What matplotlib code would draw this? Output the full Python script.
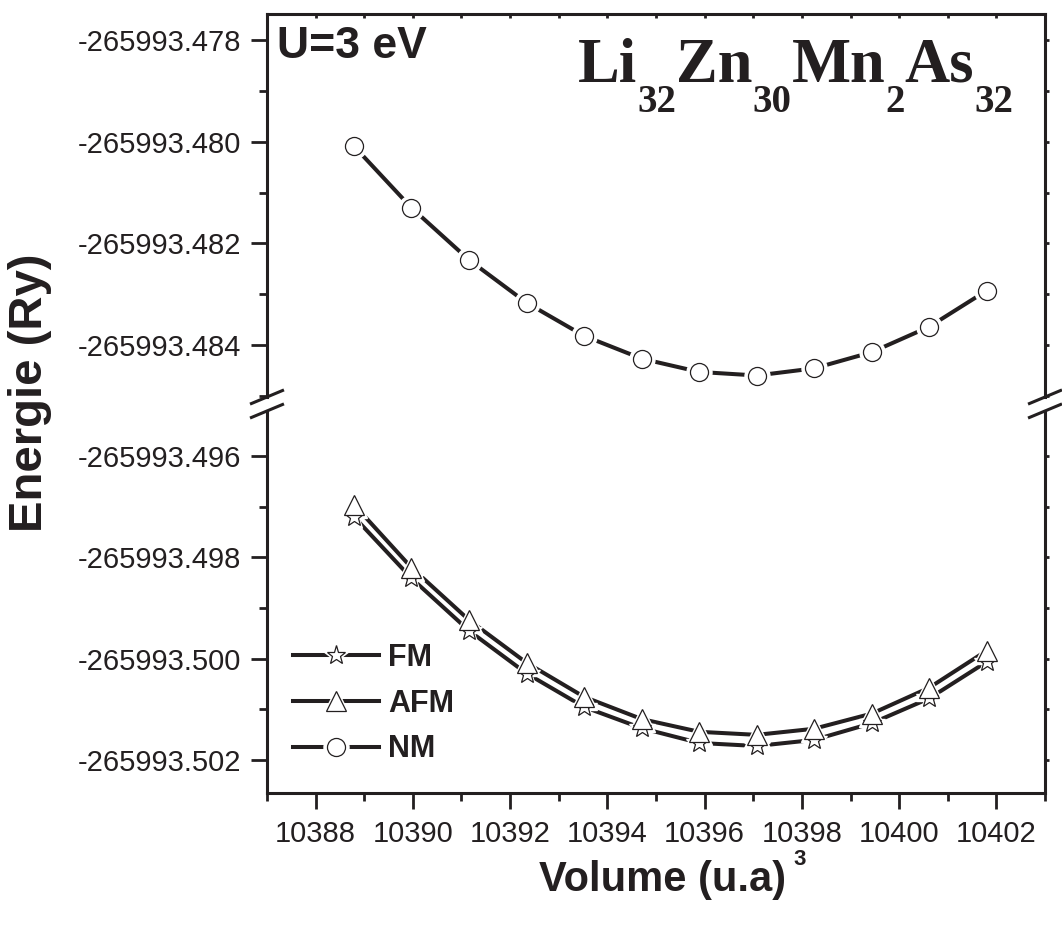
import numpy as np
import matplotlib
matplotlib.use('Agg')
import matplotlib.pyplot as plt
from matplotlib.lines import TICKRIGHT
from matplotlib.ticker import MultipleLocator, FormatStrFormatter
from matplotlib.legend_handler import HandlerTuple

plt.rcParams['font.family'] = ['Liberation Sans', 'DejaVu Sans']

INK = '#231f20'

# volumes (u.a)^3 and total energies (Ry)
volume = [10388.79, 10389.97, 10391.16, 10392.34, 10393.52, 10394.71,
          10395.89, 10397.07, 10398.25, 10399.44, 10400.62, 10401.80]
e_fm = [-265993.49720, -265993.49841, -265993.49945, -265993.50029,
        -265993.50095, -265993.50137, -265993.50166, -265993.50172,
        -265993.50160, -265993.50127, -265993.50078, -265993.50006]
e_afm = [-265993.49696, -265993.49820, -265993.49924, -265993.50008,
         -265993.50075, -265993.50119, -265993.50144, -265993.50150,
         -265993.50138, -265993.50108, -265993.50057, -265993.49984]
e_nm = [-265993.48009, -265993.48130, -265993.48233, -265993.48317,
        -265993.48382, -265993.48427, -265993.48453, -265993.48460,
        -265993.48446, -265993.48414, -265993.48364, -265993.48293]

series = [('FM', e_fm, '*', 14), ('AFM', e_afm, '^', 14), ('NM', e_nm, 'o', 13)]

# formula pieces: (text, is_subscript)
formula = [('Li', False), ('32', True), ('Zn', False), ('30', True),
           ('Mn', False), ('2', True), ('As', False), ('32', True)]

W, H = 1062, 925
fig = plt.figure(figsize=(W / 100, H / 100), dpi=100)
ax_top = fig.add_axes([0.2514, 0.5708, 0.7326, 0.4141])
ax_bot = fig.add_axes([0.2514, 0.1427, 0.7326, 0.4130])

handles = []
for ax in (ax_top, ax_bot):
    handles = []
    for name, e, m, ms in series:
        ln, = ax.plot(volume, e, color=INK, lw=2.9, zorder=2)
        halo, = ax.plot(volume, e, ls='none', marker=m, ms=ms + 5,
                        mfc='white', mec='white', zorder=3)
        mk, = ax.plot(volume, e, ls='none', marker=m, ms=ms,
                      mfc='white', mec=INK, mew=0.9, zorder=4)
        handles.append((ln, halo, mk))

ax_top.set_ylim(-265993.485023, -265993.477488)
ax_bot.set_ylim(-265993.502647, -265993.495112)
for ax in (ax_top, ax_bot):
    ax.set_xlim(10387, 10403)
    ax.xaxis.set_major_locator(MultipleLocator(2))
    ax.xaxis.set_minor_locator(MultipleLocator(1))
    ax.yaxis.set_major_locator(MultipleLocator(0.002))
    ax.yaxis.set_minor_locator(MultipleLocator(0.001))
    ax.yaxis.set_major_formatter(FormatStrFormatter('%.3f'))
    ax.xaxis.set_major_formatter(FormatStrFormatter('%d'))
    for sp in ax.spines.values():
        sp.set_linewidth(2.2)
        sp.set_color(INK)
    ax.tick_params(axis='both', which='major', direction='out', length=11.5,
                   width=2.0, labelsize=21, colors=INK, pad=7)
    ax.tick_params(axis='both', which='minor', direction='out', length=6,
                   width=2.0, colors=INK)

ax_top.spines['bottom'].set_visible(False)
ax_bot.spines['top'].set_visible(False)
ax_top.tick_params(axis='x', which='both', bottom=False, labelbottom=False,
                   top=True, direction='in', length=3)
ax_bot.tick_params(axis='x', which='major', pad=8)
for ax in (ax_top, ax_bot):
    ax.tick_params(axis='y', which='both', right=True, labelright=False)
    for t in ax.yaxis.get_major_ticks() + ax.yaxis.get_minor_ticks():
        t.tick2line.set_markersize(3)
        t.tick2line.set_marker(TICKRIGHT)

# break marks on both vertical spines
dx, dy = 0.02, 0.017
for ax, yb in ((ax_top, 0.0), (ax_bot, 1.0)):
    for xb in (0.0, 1.0):
        ax.plot([xb - dx, xb + dx], [yb - dy, yb + dy], color=INK, lw=2.2,
                transform=ax.transAxes, clip_on=False, zorder=5)

ax_top.text(0.013, 0.968, 'U=3 eV', transform=ax_top.transAxes, ha='left',
            va='top', fontsize=32, fontweight='bold', color=INK)

# chemical formula, laid out piece by piece so subscripts sit low
renderer = fig.canvas.get_renderer()
pieces = []
for s, sub in formula:
    t = fig.text(0, 0, s, fontsize=28 if sub else 45, family='Liberation Serif',
                 fontweight='bold', color=INK, ha='left', va='baseline')
    pieces.append((t, sub, t.get_window_extent(renderer).width))
x_px = 1013 - sum(w for _, _, w in pieces)
base_px = H - 82
for t, sub, w in pieces:
    y_px = base_px - 30 if sub else base_px
    t.set_position((x_px / W, y_px / H))
    x_px += w

leg = ax_bot.legend(handles, ['FM', 'AFM', 'NM'],
                    handler_map={tuple: HandlerTuple(ndivide=1)},
                    loc='lower left', bbox_to_anchor=(0.034, 0.075),
                    frameon=False, borderpad=0, borderaxespad=0,
                    handlelength=2.8, handletextpad=0.3, labelspacing=0.51,
                    prop={'size': 22, 'weight': 'bold'})
for txt in leg.get_texts():
    txt.set_color(INK)

fig.text(0.028, 0.575, 'Energie (Ry)', rotation=90, ha='center',
         va='center', fontsize=34, fontweight='bold', color=INK)
fig.text(0.624, 0.049, 'Volume (u.a)', ha='center', va='center',
         fontsize=30, fontweight='bold', color=INK)
fig.text(0.753, 0.0705, '3', ha='center', va='center',
         fontsize=16, fontweight='bold', color=INK)

fig.savefig('out.png', dpi=100)
